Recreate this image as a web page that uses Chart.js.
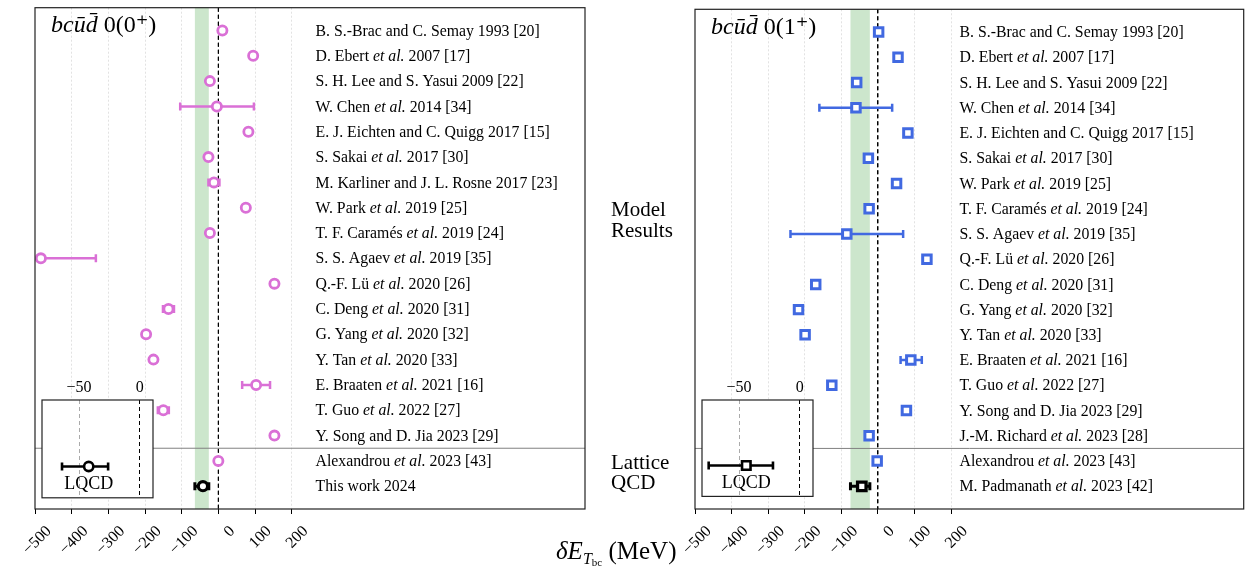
<!DOCTYPE html>
<html><head><meta charset="utf-8">
<script src="https://cdn.jsdelivr.net/npm/chart.js@4/dist/chart.umd.min.js"></script>
<style>
html,body{margin:0;padding:0;background:#fff;}
#wrap{position:relative;width:1253px;height:569px;overflow:hidden;background:#fff;}
canvas{position:absolute;display:block;}
.t{position:absolute;font-family:'Liberation Serif','DejaVu Serif',serif;color:#000;white-space:nowrap;line-height:1;}
</style></head><body>
<div id="wrap">
  <canvas id="mainL" width="600" height="569" style="left:0;top:0"></canvas>
  <canvas id="mainR" width="613" height="569" style="left:640px;top:0"></canvas>
  <canvas id="insetL" width="135" height="130" style="left:30px;top:375px"></canvas>
  <canvas id="insetR" width="135" height="130" style="left:690px;top:375px"></canvas>
  <div class="t" style="left:611px;top:199px;font-size:21px">Model</div>
  <div class="t" style="left:611px;top:220px;font-size:21px">Results</div>
  <div class="t" style="left:611px;top:452px;font-size:21px">Lattice</div>
  <div class="t" style="left:611px;top:472px;font-size:21px">QCD</div>
  <div class="t" style="left:556px;top:538px;font-size:25px"><i>δE</i><span style="font-size:16px;position:relative;top:5px"><i>T</i><span style="font-size:11px;position:relative;top:2px">bc</span></span> (MeV)</div>
</div>
<script>
// ---------------- data ----------------
const xTicks = [-500, -400, -300, -200, -100, 0, 100, 200];
const insetTicks = [-50, 0];

const rows0 = ["B. S.-Brac and C. Semay 1993 [20]", "D. Ebert et al. 2007 [17]", "S. H. Lee and S. Yasui 2009 [22]", "W. Chen et al. 2014 [34]", "E. J. Eichten and C. Quigg 2017 [15]", "S. Sakai et al. 2017 [30]", "M. Karliner and J. L. Rosne 2017 [23]", "W. Park et al. 2019 [25]", "T. F. Caramés et al. 2019 [24]", "S. S. Agaev et al. 2019 [35]", "Q.-F. Lü et al. 2020 [26]", "C. Deng et al. 2020 [31]", "G. Yang et al. 2020 [32]", "Y. Tan et al. 2020 [33]", "E. Braaten et al. 2021 [16]", "T. Guo et al. 2022 [27]", "Y. Song and D. Jia 2023 [29]", "Alexandrou et al. 2023 [43]", "This work 2024"];
const vals0 = [11, 95, -23, -4, 82, -27, -12, 75, -23, -484, 153, -136, -197, -177, 103, -150, -214, 0, -42];
const lo0 = [null, null, null, -104, null, null, -27, null, null, -634, null, -151, null, null, 65, -165, null, null, -64];
const hi0 = [null, null, null, 97, null, null, 3, null, null, -334, null, -121, null, null, 141, -135, null, null, -26];
const extraRows0 = [16];
const extraVals0 = [153];

const rows1 = ["B. S.-Brac and C. Semay 1993 [20]", "D. Ebert et al. 2007 [17]", "S. H. Lee and S. Yasui 2009 [22]", "W. Chen et al. 2014 [34]", "E. J. Eichten and C. Quigg 2017 [15]", "S. Sakai et al. 2017 [30]", "W. Park et al. 2019 [25]", "T. F. Caramés et al. 2019 [24]", "S. S. Agaev et al. 2019 [35]", "Q.-F. Lü et al. 2020 [26]", "C. Deng et al. 2020 [31]", "G. Yang et al. 2020 [32]", "Y. Tan et al. 2020 [33]", "E. Braaten et al. 2021 [16]", "T. Guo et al. 2022 [27]", "Y. Song and D. Jia 2023 [29]", "J.-M. Richard et al. 2023 [28]", "Alexandrou et al. 2023 [43]", "M. Padmanath et al. 2023 [42]"];
const vals1 = [2, 55, -58, -60, 82, -26, 51, -24, -85, 134, -170, -217, -199, 90, -126, 78, -219, -2, -44];
const lo1 = [null, null, null, -160, null, null, null, null, -239, null, null, null, null, 62, null, null, -244, null, -75];
const hi1 = [null, null, null, 39, null, null, null, null, 69, null, null, null, null, 120, null, null, -205, null, -22];
const extraRows1 = [16];
const extraVals1 = [-24];

// lattice (this work / Padmanath) result shown in insets and as band
const lqcdVal = [-42, -44];
const lqcdLo = [-64, -75];
const lqcdHi = [-26, -22];

const titles = [["bcūd̄", " 0(0⁺)"], ["bcūd̄", " 0(1⁺)"]];
// --------------------------------------

const SERIF = "'Liberation Serif','DejaVu Serif',serif";
const minus = v => String(v).replace('-', '\u2212');

function buildPoints(vals, lo, hi, exRows, exVals) {
  const col = [], blk = [];
  vals.forEach((v, i) => {
    const p = {x: v, y: i, lo: lo[i], hi: hi[i]};
    (i === vals.length - 1 ? blk : col).push(p);
  });
  exRows.forEach((r, k) => col.push({x: exVals[k], y: r, lo: null, hi: null}));
  return {col, blk};
}

const errorBars = {
  id: 'errorBars',
  beforeDatasetsDraw(chart) {
    const {ctx, chartArea: a, scales: {x, y}} = chart;
    ctx.save();
    ctx.beginPath(); ctx.rect(a.left, a.top, a.right - a.left, a.bottom - a.top); ctx.clip();
    chart.data.datasets.forEach(ds => {
      ds.data.forEach(p => {
        if (p.lo == null) return;
        const py = y.getPixelForValue(p.y);
        const x1 = x.getPixelForValue(p.lo), x2 = x.getPixelForValue(p.hi);
        const cap = ds.capHalf || 4;
        ctx.strokeStyle = ds.borderColor; ctx.lineWidth = ds.errWidth || 2.5;
        ctx.beginPath();
        ctx.moveTo(x1, py); ctx.lineTo(x2, py);
        ctx.moveTo(x1, py - cap); ctx.lineTo(x1, py + cap);
        ctx.moveTo(x2, py - cap); ctx.lineTo(x2, py + cap);
        ctx.stroke();
      });
    });
    ctx.restore();
  }
};

const deco = {
  id: 'deco',
  beforeDraw(chart, args, o) {
    const {ctx, chartArea: a} = chart;
    if (o.whiteArea) { ctx.save(); ctx.fillStyle = '#fff'; ctx.fillRect(a.left, a.top, a.right - a.left, a.bottom - a.top); ctx.restore(); }
  },
  beforeDatasetsDraw(chart, args, o) {
    const {ctx, chartArea: a, scales: {x, y}} = chart;
    ctx.save();
    if (o.band) {
      const b1 = x.getPixelForValue(o.band[0]), b2 = x.getPixelForValue(o.band[1]);
      ctx.fillStyle = 'rgba(0,128,0,0.2)';
      ctx.fillRect(b1, a.top, b2 - b1, a.bottom - a.top);
      const z = x.getPixelForValue(0);
      ctx.strokeStyle = '#000'; ctx.lineWidth = 1.2; ctx.setLineDash([4, 3]);
      ctx.beginPath(); ctx.moveTo(z, a.top); ctx.lineTo(z, a.bottom); ctx.stroke();
      ctx.setLineDash([]);
    }
    if (o.sepAt != null) {
      const sy = y.getPixelForValue(o.sepAt);
      ctx.strokeStyle = '#808080'; ctx.lineWidth = 1;
      ctx.beginPath(); ctx.moveTo(a.left, sy); ctx.lineTo(a.right, sy); ctx.stroke();
    }
    ctx.restore();
  },
  afterDraw(chart, args, o) {
    const {ctx, chartArea: a, scales: {x, y}} = chart;
    ctx.save();
    ctx.strokeStyle = '#222'; ctx.lineWidth = 1.2;
    ctx.strokeRect(a.left, a.top, a.right - a.left, a.bottom - a.top);
    ctx.fillStyle = '#000';
    ctx.textBaseline = 'middle'; ctx.textAlign = 'left';
    if (o.labels) {
      const lx = x.getPixelForValue(o.labelX);
      o.labels.forEach((s, i) => {
        const py = y.getPixelForValue(i) + 1;
        const parts = s.split(/(et al\.)/);
        let cx = lx;
        parts.forEach(seg => {
          if (!seg) return;
          ctx.font = (seg === 'et al.' ? 'italic ' : '') + '15.8px ' + SERIF;
          ctx.fillText(seg, cx, py);
          cx += ctx.measureText(seg).width;
        });
      });
    }
    if (o.title) {
      let cx = a.left + 16;
      const ty = a.top + 18;
      ctx.font = 'italic 24px ' + SERIF;
      ctx.fillText(o.title[0], cx, ty);
      cx += ctx.measureText(o.title[0]).width;
      ctx.font = '24px ' + SERIF;
      ctx.fillText(o.title[1], cx, ty);
    }
    if (o.lqcdText) {
      const p = chart.data.datasets[0].data[0];
      ctx.textAlign = 'center';
      ctx.font = '18px ' + SERIF;
      ctx.fillText(o.lqcdText, x.getPixelForValue(p.x), y.getPixelForValue(p.y) + 18);
    }
    ctx.restore();
  }
};

function gridColor(c) {
  const v = c.tick ? c.tick.value : null;
  if (v === -500) return 'rgba(0,0,0,0)';
  if (v === 0) return '#000';
  return '#e2e2e2';
}
function gridDash(c) {
  if (!c.tick) return [];
  return c.tick.value === 0 ? [4, 3] : [2, 2];
}

function makeMain(id, vals, lo, hi, exRows, exVals, labels, color, style, radius, bw, labelX, bandIdx, title, padLeft, padRight) {
  const pts = buildPoints(vals, lo, hi, exRows, exVals);
  return new Chart(document.getElementById(id), {
    type: 'scatter',
    data: {datasets: [
      {data: pts.col, borderColor: color, backgroundColor: '#fff', pointStyle: style, pointRadius: radius, pointBorderWidth: bw, pointBackgroundColor: '#fff', errWidth: 2.5, capHalf: 4},
      {data: pts.blk, borderColor: '#000', backgroundColor: '#fff', pointStyle: style, pointRadius: radius, pointBorderWidth: bw + 0.3, pointBackgroundColor: '#fff', errWidth: 3, capHalf: 4}
    ]},
    options: {
      responsive: false, animation: false, events: [],
      layout: {padding: {left: padLeft, right: padRight, top: 7, bottom: 0}},
      plugins: {
        legend: {display: false}, tooltip: {enabled: false},
        deco: {band: [lqcdLo[bandIdx], lqcdHi[bandIdx]], sepAt: 16.5, labels, labelX, title}
      },
      scales: {
        x: {
          type: 'linear', min: -500, max: 1000, position: 'bottom',
          afterBuildTicks: s => { s.ticks = xTicks.map(v => ({value: v})); },
          afterFit: s => { s.height = 60; },
          grid: {color: gridColor, lineWidth: 1, drawTicks: true, tickLength: 5, tickColor: '#000', tickWidth: 1},
          border: {display: false, dash: gridDash},
          ticks: {color: '#000', font: {family: SERIF, size: 16}, minRotation: 45, maxRotation: 45, labelOffset: 14, padding: 8, autoSkip: false, callback: v => minus(v)}
        },
        y: {type: 'linear', display: false, reverse: true, min: -0.9, max: 18.9}
      }
    },
    plugins: [deco, errorBars]
  });
}

function makeInset(id, idx, style, radius) {
  return new Chart(document.getElementById(id), {
    type: 'scatter',
    data: {datasets: [
      {data: [{x: lqcdVal[idx], y: 0.32, lo: lqcdLo[idx], hi: lqcdHi[idx]}], borderColor: '#000', pointStyle: style, pointRadius: radius, pointBorderWidth: 2.6, pointBackgroundColor: '#fff', errWidth: 2.6, capHalf: 4}
    ]},
    options: {
      responsive: false, animation: false, events: [],
      layout: {padding: {left: 12, right: 12, top: 0, bottom: 4}},
      plugins: {legend: {display: false}, tooltip: {enabled: false}, deco: {whiteArea: true, lqcdText: 'LQCD'}},
      scales: {
        x: {
          type: 'linear', min: -80.5, max: 11, position: 'top',
          afterBuildTicks: s => { s.ticks = insetTicks.map(v => ({value: v})); },
          afterFit: s => { s.height = 25; },
          grid: {color: c => (c.tick && c.tick.value === 0) ? '#000' : '#aaa', lineWidth: 1, drawTicks: false},
          border: {display: false, dash: c => c.tick ? [4, 3] : []},
          ticks: {color: '#000', font: {family: SERIF, size: 16}, padding: 3, maxRotation: 0, callback: v => minus(v)}
        },
        y: {type: 'linear', display: false, min: 0, max: 1}
      }
    },
    plugins: [deco, errorBars]
  });
}

makeMain('mainL', vals0, lo0, hi0, extraRows0, extraVals0, rows0, '#da70d6', 'circle', 4.6, 2.8, 265, 0, titles[0], 35, 15);
makeMain('mainR', vals1, lo1, hi1, extraRows1, extraVals1, rows1, '#4169e1', 'rect', 6, 3, 223, 1, titles[1], 55, 8);
makeInset('insetL', 0, 'circle', 4.6);
makeInset('insetR', 1, 'rect', 6);
</script>
</body></html>
